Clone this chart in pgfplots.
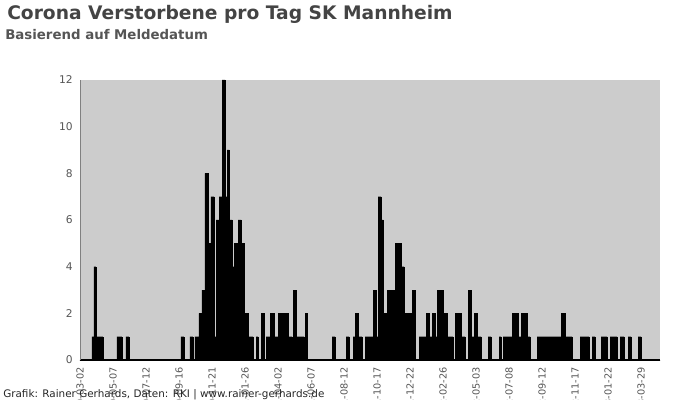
\documentclass[border=0pt]{standalone}
\usepackage{fontspec}
\setmainfont{DejaVu Sans}
\usepackage{pgfplots}
\pgfplotsset{compat=1.18}

\definecolor{plotbg}{HTML}{CCCCCC}
\definecolor{titlegray}{HTML}{444444}
\definecolor{subgray}{HTML}{555555}
\definecolor{tickgray}{HTML}{555555}

\begin{document}
\begin{tikzpicture}

\begin{axis}[
  at={(0,0)}, anchor=south west,
  scale only axis,
  width=435pt, height=210pt,
  xmin=0, xmax=1160,
  ymin=0, ymax=12,
  axis background/.style={fill=plotbg},
  axis x line*=bottom,
  axis y line*=left,
  x axis line style={black, line width=1.3pt},
  y axis line style={gray, line width=0.6pt},
  major tick length=0pt,
  ytick={0,2,...,12},
  xtick={0,66,...,1122},
  xticklabels={2020-03-02,2020-05-07,2020-07-12,2020-09-16,2020-11-21,
    2021-01-26,2021-04-02,2021-06-07,2021-08-12,2021-10-17,2021-12-22,
    2022-02-26,2022-05-03,2022-07-08,2022-09-12,2022-11-17,2023-01-22,2023-03-29},
  x tick label style={rotate=90, anchor=east, font=\fontsize{7.3}{9}\selectfont, text=tickgray, xshift=-2pt},
  y tick label style={font=\fontsize{8}{9}\selectfont, text=tickgray},
  xticklabel shift=0pt,
  yticklabel shift=2pt,
  /pgf/number format/assume math mode=true,
  ]

% Verstorbene pro Tag (Tage ab 2020-03-02), Stufenwerte
\addplot [const plot, fill=black, draw=black, line width=0.2pt] table {
0 0
24 1
28 4
32 1
46 0
74 1
84 0
92 1
98 0
202 1
208 0
220 1
226 0
230 1
238 2
244 3
250 8
256 5
262 7
268 1
272 6
278 7
284 12
290 7
294 9
298 6
304 4
308 5
314 1
316 6
322 5
328 2
336 1
346 0
352 1
356 0
362 2
368 0
372 1
380 2
388 1
396 2
402 1
404 2
416 1
424 0
426 3
432 1
448 0
450 2
454 0
504 1
510 0
532 1
538 0
546 1
550 2
556 1
564 0
570 1
586 3
592 1
596 7
602 6
606 2
612 1
614 3
620 1
622 3
628 1
630 5
642 4
648 2
664 3
670 0
678 1
692 2
698 1
704 2
710 1
714 3
726 2
734 1
746 0
750 2
762 1
770 0
776 3
782 1
788 2
794 1
802 0
816 1
822 0
838 1
842 0
846 1
864 2
876 1
882 2
894 1
900 0
914 1
962 2
970 1
984 0
1000 1
1018 0
1024 1
1030 0
1042 1
1054 0
1060 1
1074 0
1080 1
1088 0
1096 1
1102 0
1116 1
1122 0
1160 0
} \closedcycle;

\end{axis}

\node[anchor=base west, inner sep=0pt, text=titlegray, font=\fontsize{14}{16}\selectfont\bfseries]
  at (-54.75pt,255pt) {Corona Verstorbene pro Tag SK Mannheim};
\node[anchor=base west, inner sep=0pt, text=subgray, font=\fontsize{10}{12}\selectfont\bfseries]
  at (-56.25pt,240pt) {Basierend auf Meldedatum};
\node[anchor=base west, inner sep=0pt, text=black!85, font=\fontsize{7.8}{9}\selectfont]
  at (-57.75pt,-27.75pt) {Grafik: Rainer Gerhards, Daten: RKI | www.rainer-gerhards.de};

\pgfresetboundingbox
\path[use as bounding box] (-60pt,-30pt) rectangle (465pt,270pt);

\end{tikzpicture}
\end{document}
